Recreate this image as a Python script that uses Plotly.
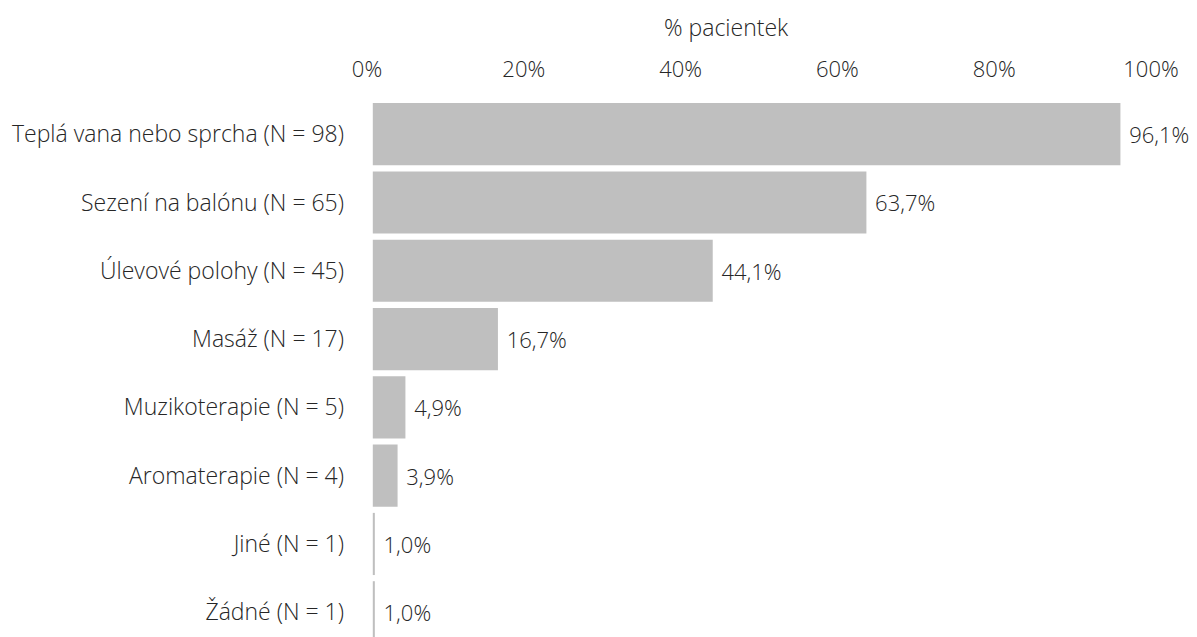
import plotly.graph_objects as go

categories = [
    "Teplá vana nebo sprcha (N = 98)",
    "Sezení na balónu (N = 65)",
    "Úlevové polohy (N = 45)",
    "Masáž (N = 17)",
    "Muzikoterapie (N = 5)",
    "Aromaterapie (N = 4)",
    "Jiné (N = 1)",
    "Žádné (N = 1)",
]
values = [96.1, 63.7, 44.1, 16.7, 4.9, 3.9, 1.0, 1.0]
tick_vals = [0, 20, 40, 60, 80, 100]
tick_text = ["0%", "20%", "40%", "60%", "80%", "100%"]
axis_title = "% pacientek"

FONT = "'Open Sans', sans-serif"
TXT = "#262626"
FS = 23
FS_NUM = 22
W = 300

labels = [" " + f"{v:.1f}".replace(".", ",") + "%" for v in values]

fig = go.Figure(go.Bar(
    x=values,
    y=categories,
    orientation="h",
    marker=dict(color="#bfbfbf", line=dict(width=0)),
    text=labels,
    textposition="outside",
    textfont=dict(family=FONT, size=FS_NUM, color=TXT, weight=W),
    cliponaxis=False,
))

# white strip along the value-axis origin (as in the source chart)
fig.add_shape(type="rect", xref="x", yref="paper", x0=0, x1=0.74, y0=0, y1=1,
              fillcolor="white", line=dict(width=0), layer="above")

fig.add_annotation(text=axis_title, xref="paper", yref="paper", x=0.458, y=1.136,
                   xanchor="center", yanchor="middle", showarrow=False,
                   font=dict(family=FONT, size=FS, color=TXT, weight=W))

fig.update_layout(
    width=1197,
    height=637,
    margin=dict(l=359, r=54, t=92, b=8, pad=0),
    plot_bgcolor="white",
    paper_bgcolor="white",
    bargap=0.09,
    showlegend=False,
    font=dict(family=FONT, size=FS, color=TXT, weight=W),
    xaxis=dict(
        side="top",
        range=[0, 100],
        tickvals=tick_vals,
        ticktext=tick_text,
        showgrid=False,
        zeroline=False,
        showline=False,
        ticks="",
        ticklabelstandoff=18,
        tickfont=dict(family=FONT, size=FS_NUM, color=TXT, weight=W),
        automargin=False,
    ),
    yaxis=dict(
        categoryorder="array",
        categoryarray=categories,
        range=[7.362, -0.5],
        showgrid=False,
        zeroline=False,
        showline=False,
        ticks="",
        ticklabelstandoff=22,
        tickfont=dict(family=FONT, size=FS, color=TXT, weight=W),
        automargin=False,
    ),
)

fig.write_html("out.html")
